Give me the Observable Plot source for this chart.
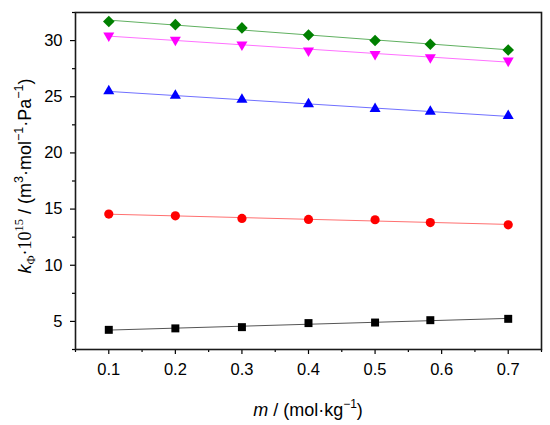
<!DOCTYPE html>
<html>
<head>
<meta charset="utf-8">
<script src="https://cdn.jsdelivr.net/npm/d3@7"></script>
<script src="https://cdn.jsdelivr.net/npm/@observablehq/plot@0.6"></script>
<style>
  html, body { margin: 0; padding: 0; background: #fff; }
  svg { font-family: "Liberation Sans", Arial, sans-serif; }
</style>
</head>
<body>
<div id="chart"></div>
<script>
const m = [0.1, 0.2, 0.3, 0.4, 0.5, 0.583, 0.7];
const sSquare  = [4.25, 4.38, 4.49, 4.85, 4.90, 5.11, 5.23];
const sCircle  = [14.56, 14.40, 14.17, 14.08, 14.05, 13.80, 13.60];
const sTriUp   = [25.50, 25.10, 24.75, 24.35, 23.92, 23.68, 23.30];
const sTriDown = [30.44, 30.06, 29.64, 29.10, 28.80, 28.50, 28.20];
const sDiamond = [31.69, 31.42, 31.13, 30.50, 30.00, 29.67, 29.17];

const xMajor = [0.1, 0.2, 0.3, 0.4, 0.5, 0.6, 0.7];
const xMinor = [0.05, 0.15, 0.25, 0.35, 0.45, 0.55, 0.65, 0.75];
const yMajor = [5, 10, 15, 20, 25, 30];
const yMinor = [2.5, 7.5, 12.5, 17.5, 22.5, 27.5, 32.5];

const series = [
  {name: "square",  values: sSquare,  fill: "#000000", line: "#555555", symbol: "square",   r: 4.5, rotate: 0},
  {name: "circle",  values: sCircle,  fill: "#ff0000", line: "#ff7070", symbol: "circle",   r: 4.6, rotate: 0},
  {name: "triUp",   values: sTriUp,   fill: "#0000ff", line: "#7070ff", symbol: "triangle", r: 4.1, rotate: 0},
  {name: "triDown", values: sTriDown, fill: "#ff00ff", line: "#ff70ff", symbol: "triangle", r: 4.1, rotate: 180},
  {name: "diamond", values: sDiamond, fill: "#008000", line: "#60b060", symbol: "square",   r: 4.6, rotate: 45}
];

const marks = [];
for (const s of series) {
  const data = m.map((x, i) => ({x, y: s.values[i]}));
  marks.push(Plot.linearRegressionY(data, {x: "x", y: "y", stroke: s.line, strokeWidth: 1, ci: 0}));
}
for (const s of series) {
  const data = m.map((x, i) => ({x, y: s.values[i]}));
  marks.push(Plot.dot(data, {x: "x", y: "y", symbol: s.symbol, r: s.r, fill: s.fill, stroke: "none", rotate: s.rotate}));
}

const chart = Plot.plot({
  width: 550,
  height: 425,
  marginLeft: 75,
  marginRight: 9,
  marginTop: 12,
  marginBottom: 76,
  style: {fontFamily: "'Liberation Sans', Arial, sans-serif", fontSize: "16px", color: "#000", background: "#fff"},
  x: {domain: [0.05, 0.75]},
  y: {domain: [2.5, 32.5]},
  marks: [
    Plot.axisX(xMajor, {tickSize: 5, tickPadding: 9, tickFormat: d3.format(".1f"), fontSize: 16.5, label: null, stroke: "#000", strokeWidth: 1.2}),
    Plot.axisX(xMinor, {tickSize: 3, text: null, label: null, stroke: "#000", strokeWidth: 1.2}),
    Plot.axisY(yMajor, {tickSize: 5, tickPadding: 8, fontSize: 16.5, label: null, stroke: "#000", strokeWidth: 1.2}),
    Plot.axisY(yMinor, {tickSize: 3, text: null, label: null, stroke: "#000", strokeWidth: 1.2}),
    ...marks,
    Plot.frame({stroke: "#1a1a1a", strokeWidth: 1.6})
  ]
});

document.getElementById("chart").appendChild(chart);

// Axis titles with rich text (sub/superscripts)
const svg = d3.select(chart);
const sans = "'Liberation Sans', Arial, sans-serif";
const serif = "'Liberation Serif', 'Times New Roman', serif";

const xt = svg.append("text")
  .attr("x", 308).attr("y", 416)
  .attr("text-anchor", "middle")
  .attr("font-family", sans).attr("font-size", 18).attr("fill", "#000");
xt.append("tspan").attr("font-style", "italic").text("m");
xt.append("tspan").text(" / (mol·kg");
xt.append("tspan").attr("dy", -8).attr("font-size", 12).text("−1");
xt.append("tspan").attr("dy", 8).text(")");

const yt = svg.append("text")
  .attr("transform", "translate(31,176) rotate(-90)")
  .attr("text-anchor", "middle")
  .attr("font-family", sans).attr("font-size", 18).attr("fill", "#000");
yt.append("tspan").attr("font-style", "italic").text("k");
yt.append("tspan").attr("dy", 4).attr("font-size", 12.5).attr("font-family", serif).text("Φ");
yt.append("tspan").attr("dy", -4).attr("font-family", serif).text("·10");
yt.append("tspan").attr("dy", -8).attr("font-size", 12.5).attr("font-family", serif).text("15");
yt.append("tspan").attr("dy", 8).text(" / (m");
yt.append("tspan").attr("dy", -8).attr("font-size", 12.5).text("3");
yt.append("tspan").attr("dy", 8).text("·mol");
yt.append("tspan").attr("dy", -8).attr("font-size", 12.5).text("−1");
yt.append("tspan").attr("dy", 8).text("·Pa");
yt.append("tspan").attr("dy", -8).attr("font-size", 12.5).text("−1");
yt.append("tspan").attr("dy", 8).text(")");
</script>
</body>
</html>
